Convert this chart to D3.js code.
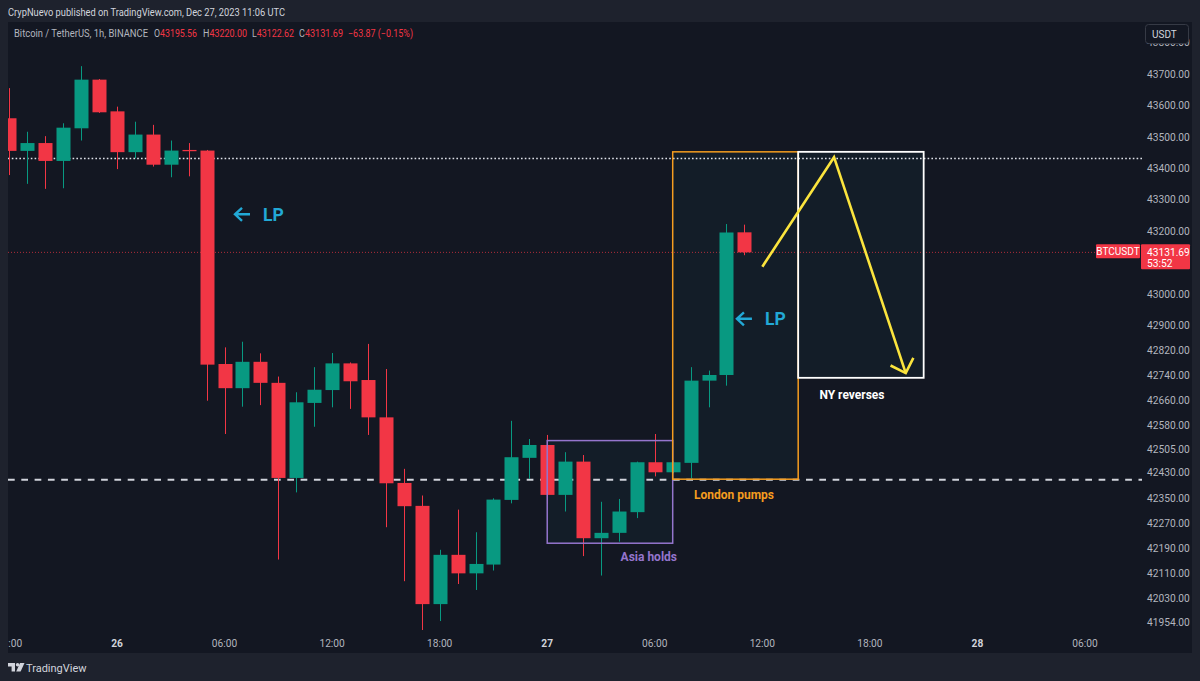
<!DOCTYPE html>
<html><head><meta charset="utf-8">
<script src="https://cdn.jsdelivr.net/npm/d3@7"></script>
<style>
html,body{margin:0;padding:0;background:#1e222d;}
svg{display:block;}
text{font-family:Roboto,"Noto Sans",sans-serif;}
</style></head><body>
<svg id="chart" width="1200" height="681"></svg>
<script>
// ---- data ----
const times = ["2023-12-25T18:00Z","2023-12-25T19:00Z","2023-12-25T20:00Z","2023-12-25T21:00Z","2023-12-25T22:00Z","2023-12-25T23:00Z",
"2023-12-26T00:00Z","2023-12-26T01:00Z","2023-12-26T02:00Z","2023-12-26T03:00Z","2023-12-26T04:00Z","2023-12-26T05:00Z",
"2023-12-26T06:00Z","2023-12-26T07:00Z","2023-12-26T08:00Z","2023-12-26T09:00Z","2023-12-26T10:00Z","2023-12-26T11:00Z",
"2023-12-26T12:00Z","2023-12-26T13:00Z","2023-12-26T14:00Z","2023-12-26T15:00Z","2023-12-26T16:00Z","2023-12-26T17:00Z",
"2023-12-26T18:00Z","2023-12-26T19:00Z","2023-12-26T20:00Z","2023-12-26T21:00Z","2023-12-26T22:00Z","2023-12-26T23:00Z",
"2023-12-27T00:00Z","2023-12-27T01:00Z","2023-12-27T02:00Z","2023-12-27T03:00Z","2023-12-27T04:00Z","2023-12-27T05:00Z",
"2023-12-27T06:00Z","2023-12-27T07:00Z","2023-12-27T08:00Z","2023-12-27T09:00Z","2023-12-27T10:00Z","2023-12-27T11:00Z"];
const opens  = [43559,43455,43480,43423,43527,43682, 43581,43451,43507,43411,43458,43456, 42776,42699,42783,42716,42413,42652, 42693,42778,42725,42606,42397,42324, 42011,42168,42109,42137,42343,42477, 42518,42359,42465,42221,42238,42304, 42463,42431,42461,42723,42741,43195.56];
const highs  = [43655,43516,43502,43543,43725,43684, 43596,43548,43538,43488,43480,43458, 42829,42847,42810,42736,42686,42766, 42811,42781,42840,42760,42442,42357, 42184,42312,42240,42348,42595,42537, 42550,42495,42486,42337,42346,42465, 42553,42466,42766,42755,43222,43220.00];
const lows   = [43378,43350,43334,43336,43488,43576, 43397,43431,43405,43371,43374,42659, 42553,42640,42645,42153,42367,42576, 42638,42633,42550,42256,42084,41926, 41957,42075,42056,42118,42332,42410, 42330,42306,42164,42102,42210,42285, 42418,42428,42412,42638,42707,43122.62];
const closes = [43455,43480,43423,43529,43682,43578, 43451,43507,43411,43456,43454,42774, 42699,42783,42716,42413,42654,42694, 42778,42721,42606,42396,42323,42011, 42168,42109,42139,42344,42479,42518, 42359,42465,42221,42238,42306,42463, 42431,42463,42723,42741,43195,43131.69];

const priceTicks = [43800,43700,43600,43500,43400,43300,43200,43000,42900,42820,42740,42660,42580,42505,42430,42350,42270,42190,42110,42030,41954];
const timeTicks = ["2023-12-25T18:00Z","2023-12-26T00:00Z","2023-12-26T06:00Z","2023-12-26T12:00Z","2023-12-26T18:00Z","2023-12-27T00:00Z","2023-12-27T06:00Z","2023-12-27T12:00Z","2023-12-27T18:00Z","2023-12-28T00:00Z","2023-12-28T06:00Z"];

const ohlcKeys = ["O","H","L","C"];
const ohlcVals = ["43195.56","43220.00","43122.62","43131.69"];
const lastPrice = 43131.69;
const dottedLevel = 43431;
const dashedLevel = 42407;
const asiaBox   = ["2023-12-27T00:00Z","2023-12-27T07:00Z",42532,42205];
const londonBox = ["2023-12-27T07:00Z","2023-12-27T14:00Z",43452,42409];
const nyBox     = ["2023-12-27T14:00Z","2023-12-27T21:00Z",43452,42732];
const pathTimes  = ["2023-12-27T12:00Z","2023-12-27T16:00Z","2023-12-27T20:00Z"];
const pathPrices = [43086,43435,42747];
const lpTimes  = ["2023-12-26T06:35Z","2023-12-27T10:35Z"];
const lpPrices = [43253,42920];
const labelTexts  = ["Asia holds","London pumps","NY reverses"];
const labelTimes  = ["2023-12-27T05:40Z","2023-12-27T10:25Z","2023-12-27T17:00Z"];
const labelPrices = [42164,42359,42679];

// ---- drawing ----
const svg = d3.select("#chart");
const C = {bg:"#1e222d", pane:"#131722", txt:"#b2b5be", up:"#089981", down:"#f23645"};
const plot = {l:8, t:22, r:1142, b:630};

const x = d3.scaleUtc().domain([new Date("2023-12-25T18:00Z"), new Date("2023-12-28T06:00Z")]).range([9.44, 1085]);
const y = d3.scaleLinear().domain([41954, 43700]).range([622, 74]);
const T = s => x(new Date(s));

svg.append("rect").attr("width",1200).attr("height",681).attr("fill",C.bg);
svg.append("rect").attr("x",8).attr("y",22).attr("width",1184).attr("height",631).attr("fill",C.pane);

// header
svg.append("text").attr("x",8).attr("y",16).attr("fill","#d1d4dc").attr("font-size",10.5)
  .attr("textLength",277).attr("lengthAdjust","spacingAndGlyphs")
  .text("CrypNuevo published on TradingView.com, Dec 27, 2023 11:06 UTC");
svg.append("text").attr("x",14).attr("y",37).attr("font-size",10.5).attr("fill",C.txt)
  .attr("textLength",134).attr("lengthAdjust","spacingAndGlyphs").text("Bitcoin / TetherUS, 1h, BINANCE");
const ohlcX = [154,203,252,299], ohlcW = [43,44,42,44];
ohlcKeys.forEach((k,i)=>{
  const t = svg.append("text").attr("x",ohlcX[i]).attr("y",37).attr("font-size",10.5)
    .attr("textLength",ohlcW[i]).attr("lengthAdjust","spacingAndGlyphs");
  t.append("tspan").attr("fill",C.txt).text(k);
  t.append("tspan").attr("fill",C.down).text(ohlcVals[i]);
});
svg.append("text").attr("x",348).attr("y",37).attr("font-size",10.5).attr("fill",C.down)
  .attr("textLength",65).attr("lengthAdjust","spacingAndGlyphs").text("−63.87 (−0.15%)");

// clip
const defs = svg.append("defs");
defs.append("clipPath").attr("id","pc").append("rect")
  .attr("x",plot.l).attr("y",plot.t).attr("width",plot.r-plot.l).attr("height",plot.b-plot.t);
defs.append("clipPath").attr("id","tc").append("rect")
  .attr("x",8).attr("y",630).attr("width",1134).attr("height",24);
const g = svg.append("g").attr("clip-path","url(#pc)");

// box fills
const boxes = [[asiaBox,"#9575cd"],[londonBox,"#f59d1f"],[nyBox,"#ffffff"]];
boxes.forEach(([b,col])=>{
  g.append("rect").attr("x",T(b[0])).attr("y",y(b[2])).attr("width",T(b[1])-T(b[0])).attr("height",y(b[3])-y(b[2]))
   .attr("fill","rgba(30,120,130,0.07)");
});

// level lines
g.append("line").attr("x1",plot.l).attr("x2",plot.r).attr("y1",y(dottedLevel)).attr("y2",y(dottedLevel))
  .attr("stroke","#e0e3eb").attr("stroke-width",1.6).attr("stroke-dasharray","1.6,2.2");
g.append("line").attr("x1",plot.l).attr("x2",plot.r).attr("y1",y(dashedLevel)).attr("y2",y(dashedLevel))
  .attr("stroke","#d1d4dc").attr("stroke-width",2).attr("stroke-dasharray","6.7,6.6");
g.append("line").attr("x1",plot.l).attr("x2",plot.r).attr("y1",y(lastPrice)).attr("y2",y(lastPrice))
  .attr("stroke",C.down).attr("stroke-width",1).attr("stroke-dasharray","1,2").attr("opacity",0.7);

// candles
const bw = 14;
const candles = times.map((t,i)=>({t:new Date(t),o:opens[i],h:highs[i],l:lows[i],c:closes[i]}));
const cg = g.append("g");
candles.forEach(d=>{
  const col = d.c>=d.o ? C.up : C.down;
  const cx = Math.round(x(d.t));
  cg.append("line").attr("x1",cx+0.5).attr("x2",cx+0.5).attr("y1",y(d.h)).attr("y2",y(d.l)).attr("stroke",col).attr("stroke-width",1);
  const yt = y(Math.max(d.o,d.c)), yb = y(Math.min(d.o,d.c));
  cg.append("rect").attr("x",cx+0.5-bw/2).attr("y",yt).attr("width",bw).attr("height",Math.max(1,yb-yt)).attr("fill",col);
});

// box strokes
boxes.forEach(([b,col])=>{
  g.append("rect").attr("x",T(b[0])).attr("y",y(b[2])).attr("width",T(b[1])-T(b[0])).attr("height",y(b[3])-y(b[2]))
   .attr("fill","none").attr("stroke",col).attr("stroke-width",col==="#ffffff"?1.8:1.5);
});

// yellow path
const pts = pathTimes.map((t,i)=>[T(t), y(pathPrices[i])]);
g.append("path").attr("d",d3.line()(pts)).attr("fill","none").attr("stroke","#fbe43d").attr("stroke-width",2.6).attr("stroke-linejoin","miter");
const tip = pts[2], prev = pts[1];
const ang = Math.atan2(prev[1]-tip[1], prev[0]-tip[0]);
const hl = 17, ha = Math.PI/4;
const h1 = [tip[0]+hl*Math.cos(ang+ha), tip[1]+hl*Math.sin(ang+ha)];
const h2 = [tip[0]+hl*Math.cos(ang-ha), tip[1]+hl*Math.sin(ang-ha)];
g.append("path").attr("d",d3.line()([h1,tip,h2])).attr("fill","none").attr("stroke","#fbe43d").attr("stroke-width",2.6);

// LP labels
lpTimes.forEach((t,i)=>{
  const ax = T(t), ay = y(lpPrices[i]);
  g.append("path").attr("d",`M${ax+7},${ay-6.5}L${ax},${ay}L${ax+7},${ay+6.5}M${ax},${ay}H${ax+15}`)
   .attr("fill","none").attr("stroke","#22a9d6").attr("stroke-width",2.4);
  g.append("text").attr("x",ax+28).attr("y",ay+6.3).attr("fill","#22a9d6").attr("font-size",17.5).attr("font-weight","bold").text("LP");
});

// text labels
const labelCols = ["#9575cd","#f59d1f","#ffffff"];
labelTexts.forEach((s,i)=>{
  g.append("text").attr("x",T(labelTimes[i])).attr("y",y(labelPrices[i])+4.5).attr("text-anchor","middle")
   .attr("font-size",12).attr("font-weight","bold").attr("fill",labelCols[i]).text(s);
});

// price axis
const pa = svg.append("g");
priceTicks.forEach(v=>{
  pa.append("text").attr("x",1147).attr("y",y(v)+3.8).attr("font-size",10.2).attr("fill",C.txt).text(v.toFixed(2));
});
// USDT box
svg.append("rect").attr("x",1145.5).attr("y",24.5).attr("width",43).attr("height",19).attr("rx",3)
  .attr("fill",C.pane).attr("stroke","#363a45");
svg.append("text").attr("x",1152).attr("y",37.5).attr("font-size",10).attr("fill","#d1d4dc").text("USDT");
// last price label
const ly = y(lastPrice);
svg.append("rect").attr("x",1141).attr("y",ly-8).attr("width",49).attr("height",25).attr("fill",C.down).attr("rx",1);
svg.append("text").attr("x",1147).attr("y",ly+3.5).attr("font-size",10.2).attr("fill","#ffffff").text(lastPrice.toFixed(2));
svg.append("text").attr("x",1147).attr("y",ly+14.5).attr("font-size",10.2).attr("fill","#ffffff").text("53:52");
svg.append("rect").attr("x",1096).attr("y",ly-8).attr("width",44).attr("height",14).attr("fill",C.down).attr("rx",1);
svg.append("text").attr("x",1118).attr("y",ly+3).attr("text-anchor","middle").attr("font-size",10).attr("fill","#ffffff").text("BTCUSDT");

// time axis
const ta = svg.append("g").attr("clip-path","url(#tc)");
const fmt = d=> d.getUTCHours()===0 ? d3.utcFormat("%-d")(d) : d3.utcFormat("%H:%M")(d);
timeTicks.forEach(s=>{
  const d = new Date(s);
  const isDay = d.getUTCHours()===0;
  ta.append("text").attr("x",x(d)).attr("y",647).attr("text-anchor","middle").attr("font-size",10.2)
    .attr("font-weight",isDay?"bold":"normal").attr("fill",isDay?"#d1d4dc":C.txt).text(fmt(d));
});

// footer logo
const lg = svg.append("g").attr("transform","translate(8,663)").attr("fill","#d1d4dc");
lg.append("path").attr("d","M0,0H7V8.5H3.6V3.4H0Z");
lg.append("circle").attr("cx",9.6).attr("cy",1.8).attr("r",1.8);
lg.append("path").attr("d","M12,0H16.5L12.6,8.5H8.2Z");
svg.append("text").attr("x",26).attr("y",671.5).attr("font-size",11).attr("fill","#d1d4dc").text("TradingView");
</script>
</body></html>
